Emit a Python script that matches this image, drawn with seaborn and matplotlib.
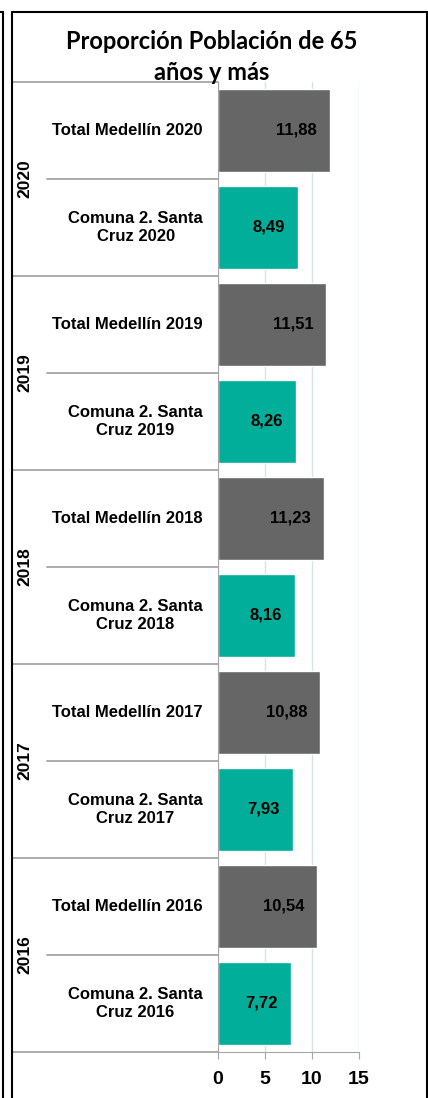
import pandas as pd
import seaborn as sns
import matplotlib.pyplot as plt
import matplotlib.transforms as mtransforms
from matplotlib.lines import Line2D

# data (top to bottom)
years = [2020, 2019, 2018, 2017, 2016]
medellin = [11.88, 11.51, 11.23, 10.88, 10.54]
comuna = [8.49, 8.26, 8.16, 7.93, 7.72]
x_ticks = [0, 5, 10, 15]

GRAY = "#666666"
TEAL = "#00AE9A"
LINE = "#a6a6a6"

rows = []
for yr, m, c in zip(years, medellin, comuna):
    rows.append({"label": f"Total Medellín {yr}", "serie": "Total Medellín", "value": m})
    rows.append({"label": f"Comuna 2. Santa\nCruz {yr}", "serie": "Comuna", "value": c})
df = pd.DataFrame(rows)

sns.set_style("white")
plt.rcParams["font.family"] = ["Liberation Sans", "DejaVu Sans"]
plt.rcParams["text.color"] = "black"
plt.rcParams["xtick.color"] = "black"

W, H = 428, 1098
fig = plt.figure(figsize=(W / 100, H / 100), dpi=100)
ax = fig.add_axes([218 / W, 1 - 1052 / H, (359 - 218) / W, (1052 - 82) / H])

sns.barplot(data=df, y="label", x="value", hue="serie",
            palette={"Total Medellín": GRAY, "Comuna": TEAL},
            dodge=False, width=0.86, orient="h", legend=False, ax=ax,
            saturation=1)

ax.set_xlim(0, 15)
ax.set_ylim(len(df) - 0.5, -0.5)
ax.set_xticks(x_ticks)
ax.set_xticklabels([str(t) for t in x_ticks], fontsize=14, fontweight="bold")
ax.set_yticks([])
ax.set_xlabel("")
ax.set_ylabel("")
ax.xaxis.grid(True, color="#d6e3e6", linewidth=1)
ax.set_axisbelow(True)
ax.tick_params(axis="x", direction="out", length=5, color=LINE, labelcolor="black",
               pad=9, bottom=True)
for s in ["top", "right"]:
    ax.spines[s].set_visible(False)
ax.spines["left"].set_color(LINE)
ax.spines["bottom"].set_color(LINE)

# value labels inside bar ends
for i, v in enumerate(df["value"]):
    ax.text(v - 1.35, i, f"{v:.2f}".replace(".", ","), ha="right", va="center",
            fontsize=12, fontweight="bold", color="black")

# category labels and separators
blend = mtransforms.blended_transform_factory(fig.transFigure, ax.transData)
for i, lab in enumerate(df["label"]):
    ax.text(203 / W, i, lab, transform=blend, ha="right", va="center",
            multialignment="center", fontsize=12, fontweight="bold",
            linespacing=1.3)
for g, yr in enumerate(years):
    fig.add_artist(Line2D([12 / W, 218 / W], [2 * g - 0.5] * 2, transform=blend,
                          color=LINE, lw=1.3))
    fig.add_artist(Line2D([47 / W, 218 / W], [2 * g + 0.5] * 2, transform=blend,
                          color=LINE, lw=1.3))
    ax.text(25 / W, 2 * g + 0.5, str(yr), transform=blend, rotation=90,
            ha="center", va="center", fontsize=12.5, fontweight="bold")
fig.add_artist(Line2D([12 / W, 218 / W], [len(df) - 0.5] * 2, transform=blend,
                      color=LINE, lw=1.3))

# title
fig.text(212 / W, 1 - 57 / H, "Proporción Población de 65\naños y más",
         ha="center", va="center", fontsize=17, fontweight="bold",
         family=["Lato", "DejaVu Sans"], linespacing=1.4)

# outer frames
for xs, ys in [([3, 3], [12, H]), ([0, 3], [12, 12]),
               ([12, 12], [12, H]), ([12, W - 1], [12, 12]), ([W - 1, W - 1], [12, H])]:
    fig.add_artist(Line2D([x / W for x in xs], [1 - y / H for y in ys],
                          transform=fig.transFigure, color="black", lw=1.5))

fig.savefig("out.png", dpi=100)
